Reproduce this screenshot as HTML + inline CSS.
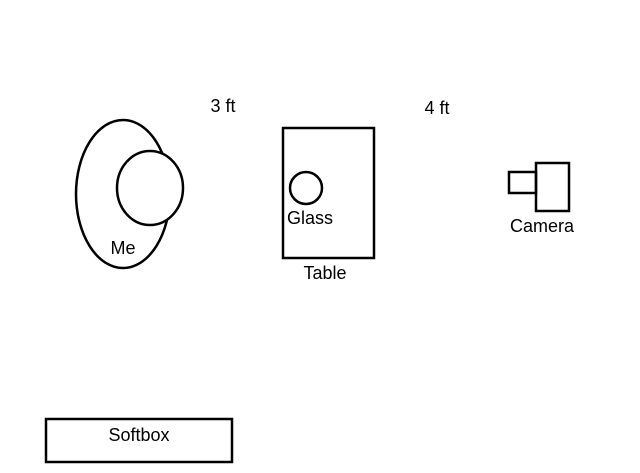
<!DOCTYPE html>
<html><head><style>body{margin:0;background:#fff}</style></head><body>
<svg width="640" height="473" xmlns="http://www.w3.org/2000/svg" style="display:block">
<rect width="640" height="473" fill="#fff"/>
<g fill="none" stroke="#000" stroke-width="2.5">
<ellipse cx="123" cy="194" rx="47" ry="74"/>
<ellipse cx="150" cy="188" rx="33" ry="37" fill="#fff"/>
<rect x="283" y="128" width="91" height="130"/>
<circle cx="306" cy="188" r="16"/>
<rect x="509" y="172" width="27" height="21"/>
<rect x="536" y="163" width="33" height="48"/>
<rect x="46" y="419" width="186" height="43"/>
</g>
<g font-family="Liberation Sans, sans-serif" font-size="18" fill="#000" text-anchor="middle">
<text x="223" y="112">3 ft</text>
<text x="437" y="114">4 ft</text>
<text x="123" y="254">Me</text>
<text x="310" y="224">Glass</text>
<text x="325" y="279">Table</text>
<text x="542" y="232">Camera</text>
<text x="139" y="441">Softbox</text>
</g>
</svg>
</body></html>
